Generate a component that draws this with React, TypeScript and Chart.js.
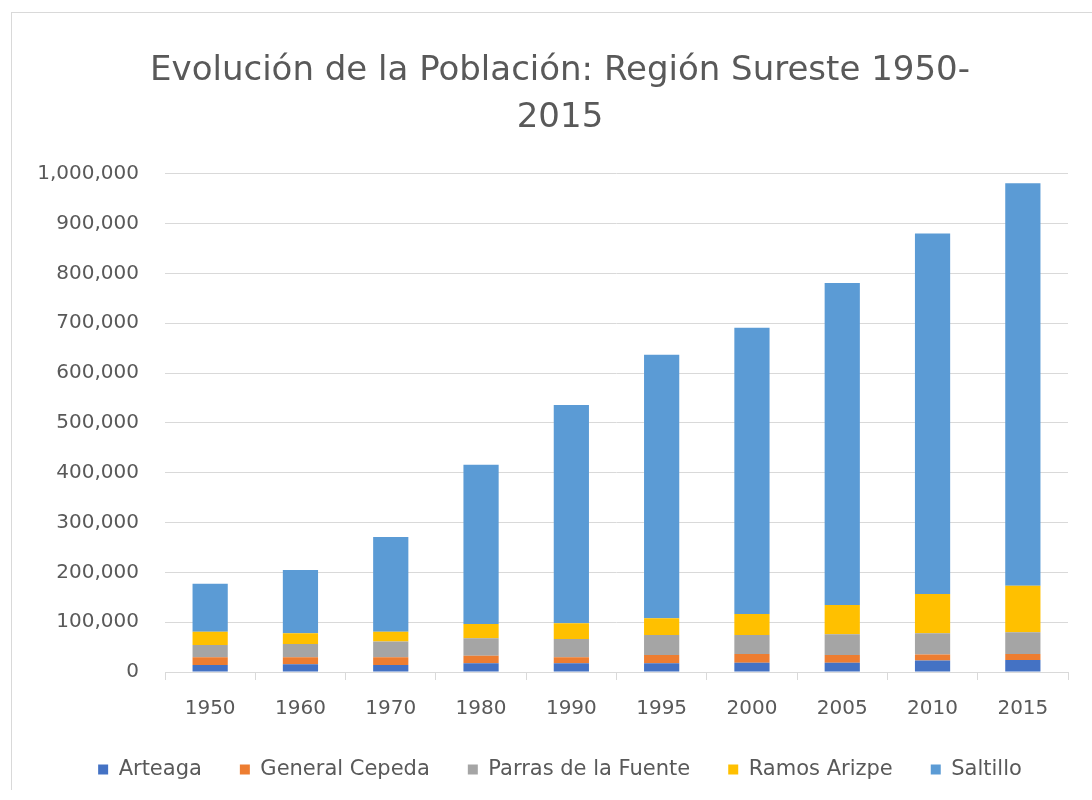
import React, { useEffect, useRef } from 'react';
import { Chart, registerables } from 'chart.js';

Chart.register(...registerables);

const years = ['1950', '1960', '1970', '1980', '1990', '1995', '2000', '2005', '2010', '2015'];
const arteaga = [14000, 15500, 14000, 17400, 17400, 17400, 18700, 18700, 23000, 24000];
const generalCepeda = [15500, 14000, 15500, 15400, 12100, 16700, 17400, 15400, 12000, 12000];
const parrasDeLaFuente = [24500, 26500, 31500, 34800, 36800, 40200, 38200, 41600, 42700, 44000];
const ramosArizpe = [27000, 21700, 20000, 28800, 31400, 33500, 42200, 58800, 78900, 93300];
const saltillo = [96000, 127300, 190000, 319600, 438300, 529200, 574500, 646500, 723400, 807700];

const seriesNames = ['Arteaga', 'General Cepeda', 'Parras de la Fuente', 'Ramos Arizpe', 'Saltillo'];
const seriesValues = [arteaga, generalCepeda, parrasDeLaFuente, ramosArizpe, saltillo];
const seriesColors = ['#4472C4', '#ED7D31', '#A5A5A5', '#FFC000', '#5B9BD5'];

const titleLines = ['Evolución de la Población: Región Sureste 1950-', '2015'];
const yMin = 0;
const yMax = 1000000;
const yStep = 100000;

const TEXT = '#595959';
const GRID = '#d9d9d9';
const FONT = "'DejaVu Sans', sans-serif";

export default function App() {
  const ref = useRef<HTMLCanvasElement>(null);

  useEffect(() => {
    document.body.style.margin = '0';
    const chart = new Chart(ref.current!, {
      type: 'bar',
      data: {
        labels: years,
        datasets: seriesNames.map((name, i) => ({
          label: name,
          data: seriesValues[i],
          backgroundColor: seriesColors[i],
          borderWidth: 0,
          barPercentage: 0.39,
          categoryPercentage: 1,
          yAxisID: 'y',
        })),
      },
      options: {
        responsive: false,
        animation: false,
        layout: { padding: 0 },
        plugins: {
          title: {
            display: true,
            text: titleLines,
            color: TEXT,
            font: { family: FONT, size: 34, weight: 'normal', lineHeight: 1.38 },
            padding: { top: 35, bottom: 32 },
          },
          legend: {
            position: 'bottom',
            labels: {
              boxWidth: 10,
              boxHeight: 10,
              padding: 38,
              color: TEXT,
              font: { family: FONT, size: 21 },
            },
          },
          tooltip: { enabled: false },
        },
        scales: {
          x: {
            stacked: true,
            afterFit: (s: any) => { s.height = s.height - 17; },
            grid: {
              display: true,
              offset: true,
              drawOnChartArea: false,
              tickLength: 8,
              color: GRID,
            },
            border: { display: true, color: GRID },
            ticks: { color: TEXT, font: { family: FONT, size: 20 }, padding: 17 },
          },
          y: {
            stacked: true,
            min: yMin,
            max: yMax,
            afterFit: (s: any) => { s.width = 153; },
            grid: { color: GRID, drawTicks: false },
            border: { display: false },
            ticks: {
              stepSize: yStep,
              padding: 26,
              color: TEXT,
              font: { family: FONT, size: 20 },
              callback: (v: any) => Number(v).toLocaleString('en-US'),
            },
          },
          spacer: {
            type: 'linear',
            position: 'right',
            display: true,
            afterFit: (s: any) => { s.width = 40; },
            grid: { display: false },
            border: { display: false },
            ticks: { display: false },
          },
        },
      },
    });
    return () => chart.destroy();
  }, []);

  return (
    <div style={{ position: 'fixed', left: 0, top: 0, width: 1092, height: 800, overflow: 'hidden', background: '#fff' }}>
      <div
        style={{
          position: 'absolute',
          left: 11,
          top: 12,
          width: 1096,
          height: 777,
          borderLeft: `1px solid ${GRID}`,
          borderTop: `1px solid ${GRID}`,
        }}
      >
        <canvas ref={ref} width={1096} height={777} style={{ display: 'block', width: 1096, height: 777 }} />
      </div>
    </div>
  );
}
